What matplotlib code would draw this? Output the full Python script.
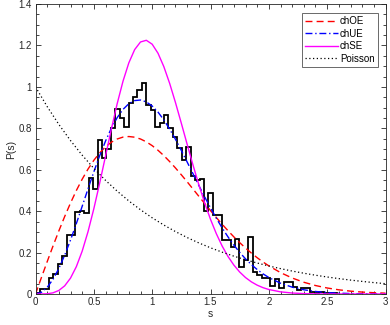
import matplotlib
matplotlib.use("Agg")
import matplotlib.pyplot as plt
from matplotlib.ticker import MultipleLocator, FuncFormatter

# ---------------- data ----------------
bin_width = 0.038
hist_values = [0.006, 0.023, 0.026, 0.079, 0.097, 0.145, 0.184, 0.285, 0.285, 0.398,
               0.402, 0.390, 0.559, 0.506, 0.744, 0.656, 0.700, 0.800, 0.892, 0.849,
               0.804, 0.921, 0.953, 0.986, 1.018, 0.913, 0.889, 0.805, 0.825, 0.865,
               0.800, 0.760, 0.704, 0.647, 0.712, 0.570, 0.551, 0.554, 0.400, 0.486,
               0.380, 0.380, 0.260, 0.260, 0.228, 0.264, 0.129, 0.164, 0.274, 0.108,
               0.092, 0.076, 0.076, 0.039, 0.071, 0.030, 0.059, 0.060, 0.035, 0.019,
               0.027, 0.027, 0.011, 0.006, 0.011, 0.006, 0.006, 0.006]
hist_edges = [round(i * bin_width, 4) for i in range(len(hist_values) + 1)]

s_curve = [0.00, 0.05, 0.10, 0.15, 0.20, 0.25, 0.30, 0.35, 0.40, 0.45,
           0.50, 0.55, 0.60, 0.65, 0.70, 0.75, 0.80, 0.85, 0.90, 0.95,
           1.00, 1.05, 1.10, 1.15, 1.20, 1.25, 1.30, 1.35, 1.40, 1.45,
           1.50, 1.55, 1.60, 1.65, 1.70, 1.75, 1.80, 1.85, 1.90, 1.95,
           2.00, 2.10, 2.20, 2.30, 2.40, 2.50, 2.60, 2.70, 2.80, 2.90, 3.00]
chOE = [0.0000, 0.0784, 0.1559, 0.2315, 0.3044, 0.3739, 0.4391, 0.4994, 0.5541, 0.6029,
        0.6454, 0.6813, 0.7104, 0.7327, 0.7483, 0.7574, 0.7602, 0.7570, 0.7483, 0.7345,
        0.7162, 0.6938, 0.6680, 0.6393, 0.6083, 0.5755, 0.5416, 0.5068, 0.4717, 0.4369,
        0.4025, 0.3690, 0.3366, 0.3055, 0.2759, 0.2481, 0.2220, 0.1977, 0.1752, 0.1546,
        0.1358, 0.1033, 0.0772, 0.0567, 0.0409, 0.0290, 0.0202, 0.0138, 0.0093, 0.0062, 0.0040]
chUE = [0.0000, 0.0081, 0.0320, 0.0709, 0.1233, 0.1871, 0.2602, 0.3398, 0.4232, 0.5073,
        0.5896, 0.6673, 0.7381, 0.7999, 0.8514, 0.8911, 0.9187, 0.9337, 0.9364, 0.9273,
        0.9076, 0.8782, 0.8405, 0.7960, 0.7466, 0.6930, 0.6371, 0.5805, 0.5240, 0.4688,
        0.4158, 0.3656, 0.3188, 0.2757, 0.2364, 0.2012, 0.1698, 0.1422, 0.1181, 0.0973,
        0.0796, 0.0521, 0.0331, 0.0204, 0.0122, 0.0071, 0.0040, 0.0022, 0.0012, 0.0006, 0.0003]
chSE = [0.0000, 0.0001, 0.0011, 0.0056, 0.0170, 0.0393, 0.0766, 0.1319, 0.2067, 0.3007,
        0.4116, 0.5351, 0.6654, 0.7956, 0.9185, 1.0272, 1.1159, 1.1799, 1.2167, 1.2248,
        1.2060, 1.1623, 1.0976, 1.0166, 0.9237, 0.8242, 0.7224, 0.6225, 0.5276, 0.4397,
        0.3604, 0.2910, 0.2313, 0.1811, 0.1398, 0.1062, 0.0795, 0.0587, 0.0427, 0.0306,
        0.0217, 0.0104, 0.0047, 0.0020, 0.0008, 0.0003, 0.0001, 0.0000, 0.0000, 0.0000, 0.0000]
s_poisson = [0.0, 0.1, 0.2, 0.3, 0.4, 0.5, 0.6, 0.7, 0.8, 0.9, 1.0, 1.1, 1.2, 1.3, 1.4, 1.5,
             1.6, 1.7, 1.8, 1.9, 2.0, 2.1, 2.2, 2.3, 2.4, 2.5, 2.6, 2.7, 2.8, 2.9, 3.0]
poisson = [1.0000, 0.9048, 0.8187, 0.7408, 0.6703, 0.6065, 0.5488, 0.4966, 0.4493, 0.4066,
           0.3679, 0.3329, 0.3012, 0.2725, 0.2466, 0.2231, 0.2019, 0.1827, 0.1653, 0.1496,
           0.1353, 0.1225, 0.1108, 0.1003, 0.0907, 0.0821, 0.0743, 0.0672, 0.0608, 0.0550, 0.0498]
legend_labels = ["chOE", "chUE", "chSE", "Poisson"]

# ---------------- figure ----------------
plt.rcParams['font.family'] = ['Liberation Sans', 'DejaVu Sans']
fig = plt.figure(figsize=(3.9, 3.25), dpi=100)
ax = fig.add_axes([35.5 / 390, 31 / 325, 350 / 390, 290 / 325])

ax.stairs(hist_values, hist_edges, color='black', lw=1.3, baseline=0)
ax.plot(s_curve, chOE, color=(1, 0, 0), ls=(0, (5, 3)), lw=1.0, label=legend_labels[0])
ax.plot(s_curve, chUE, color=(0, 0, 1), ls=(0, (5, 2, 1, 2)), lw=1.0, label=legend_labels[1])
ax.plot(s_curve, chSE, color=(1, 0, 1), ls='-', lw=1.0, label=legend_labels[2])
ax.plot(s_poisson, poisson, color='black', ls=(0, (1, 2)), lw=0.9, label=legend_labels[3])

ax.set_xlim(0, 3)
ax.set_ylim(0, 1.4)
ax.xaxis.set_major_locator(MultipleLocator(0.5))
ax.xaxis.set_minor_locator(MultipleLocator(0.1))
ax.yaxis.set_major_locator(MultipleLocator(0.2))
ax.yaxis.set_minor_locator(MultipleLocator(0.05))
fmt = FuncFormatter(lambda v, p: ('%g' % round(v, 2)))
ax.xaxis.set_major_formatter(fmt)
ax.yaxis.set_major_formatter(fmt)
axis_col = '#262626'
ax.tick_params(which='both', direction='in', top=True, right=True, colors=axis_col,
               labelsize=7, width=0.6)
ax.tick_params(which='major', length=3.5, pad=2.5)
ax.tick_params(which='minor', length=2)
for sp in ax.spines.values():
    sp.set_color(axis_col)
    sp.set_linewidth(0.6)
ax.set_xlabel('s', fontsize=7.5, labelpad=1, color=axis_col)
ax.set_ylabel('P(s)', fontsize=7.5, labelpad=2, color=axis_col)

leg = ax.legend(loc='upper right', bbox_to_anchor=(0.979, 0.969), borderaxespad=0,
                fontsize=7, frameon=True, fancybox=False, handlelength=3.4,
                handletextpad=0.2, labelspacing=0.25, borderpad=0.35)
leg.get_frame().set_edgecolor(axis_col)
leg.get_frame().set_linewidth(0.6)

fig.savefig('out.png', dpi=100)
